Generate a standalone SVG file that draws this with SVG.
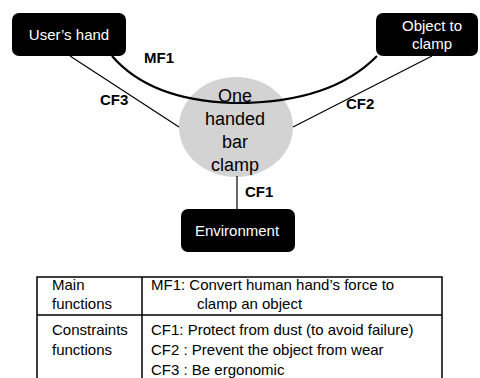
<svg xmlns="http://www.w3.org/2000/svg" width="480" height="378" viewBox="0 0 480 378">
<style>
.box{fill:#000;}
.bt{fill:#fff;font-family:"Liberation Sans",Arial,sans-serif;font-size:15px;text-anchor:middle;}
.ct{fill:#000;font-family:"Liberation Sans",Arial,sans-serif;font-size:18px;text-anchor:middle;}
.lbl{fill:#000;font-family:"Liberation Sans",Arial,sans-serif;font-size:15px;font-weight:bold;}
.ln{fill:none;stroke:#000;stroke-width:1.2;}
.tt{fill:#000;font-family:"Liberation Sans",Arial,sans-serif;font-size:15px;}
.tb{fill:none;stroke:#000;stroke-width:1.5;}
</style>
<rect width="480" height="378" fill="#fff"/>
<g id="center">
<ellipse cx="236" cy="127" rx="57" ry="50" fill="#d3d3d3"/>
</g>
<g id="connectors">
<path class="ln" d="M70 56 L179 127"/>
<path class="ln" d="M293 127 L432 56"/>
<path class="ln" d="M237 176 L237 209"/>
<path fill="none" stroke="#000" stroke-width="2.2" d="M112 56 Q150 100 232 103 Q330 104 377 56"/>
<text class="lbl" x="144" y="63">MF1</text>
<text class="lbl" x="100" y="105">CF3</text>
<text class="lbl" x="346" y="109">CF2</text>
<text class="lbl" x="245" y="197">CF1</text>
</g>
<g id="center-text">
<text class="ct" x="235" y="102">One</text>
<text class="ct" x="235" y="125">handed</text>
<text class="ct" x="235" y="148">bar</text>
<text class="ct" x="235" y="171">clamp</text>
</g>
<g id="users-hand">
<rect class="box" x="12" y="13" width="114" height="43" rx="7"/>
<text class="bt" x="69" y="40">User’s hand</text>
</g>
<g id="object">
<rect class="box" x="376" y="13" width="102" height="43" rx="7"/>
<text class="bt" x="432" y="31">Object to</text>
<text class="bt" x="432" y="49">clamp</text>
</g>
<g id="environment">
<rect class="box" x="181" y="209" width="114" height="43" rx="7"/>
<text class="bt" x="237" y="236">Environment</text>
</g>
<g id="table">
<path class="tb" d="M37 380 V277 H442 V380 M142 277 V380 M37 315 H442"/>
<text class="tt" x="52" y="290">Main</text>
<text class="tt" x="52" y="309">functions</text>
<text class="tt" x="151" y="290">MF1: Convert human hand’s force to</text>
<text class="tt" x="197" y="309">clamp an object</text>
<text class="tt" x="52" y="335">Constraints</text>
<text class="tt" x="52" y="355">functions</text>
<text class="tt" x="151" y="335">CF1: Protect from dust (to avoid failure)</text>
<text class="tt" x="151" y="355">CF2 : Prevent the object from wear</text>
<text class="tt" x="151" y="375">CF3 : Be ergonomic</text>
</g>
</svg>
